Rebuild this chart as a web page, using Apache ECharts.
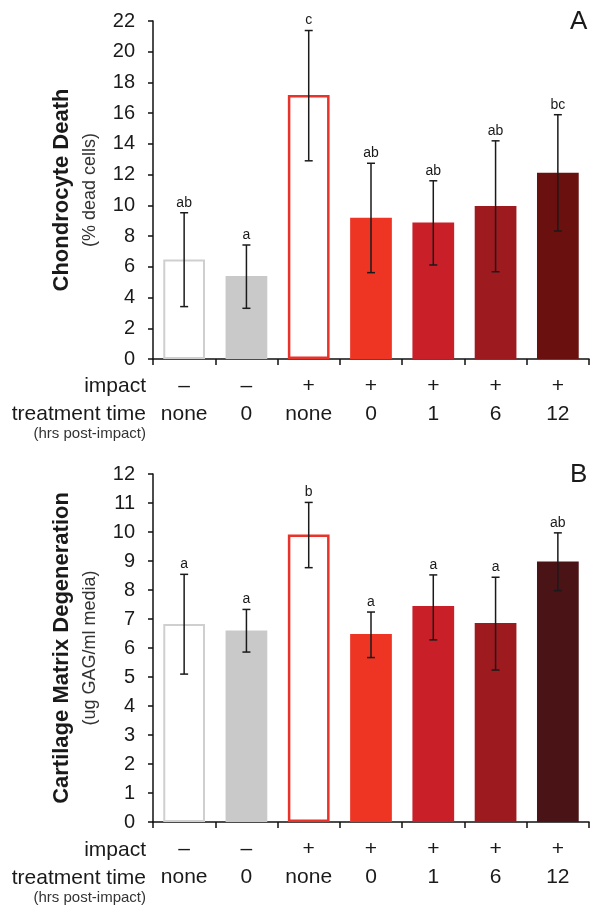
<!DOCTYPE html>
<html>
<head>
<meta charset="utf-8">
<script src="https://cdn.jsdelivr.net/npm/echarts@6/dist/echarts.min.js"></script>
<style>
html,body{margin:0;padding:0;background:#fff;}
#c{width:604px;height:918px;}
</style>
</head>
<body>
<div id="c"></div>
<script>
// ---- data ----
var impactLabels = ['–', '–', '+', '+', '+', '+', '+'];
var treatmentLabels = ['none', '0', 'none', '0', '1', '6', '12'];

var deathMean = [6.47, 5.40, 17.18, 9.20, 8.88, 9.96, 12.13];
var deathLow  = [3.41, 3.30, 12.90, 5.62, 6.12, 5.68, 8.33];
var deathHigh = [9.52, 7.42, 21.38, 12.74, 11.60, 14.20, 15.90];
var deathSig  = ['ab', 'a', 'c', 'ab', 'ab', 'ab', 'bc'];

var gagMean = [6.83, 6.60, 9.91, 6.48, 7.45, 6.86, 8.98];
var gagLow  = [5.10, 5.86, 8.77, 5.67, 6.28, 5.24, 7.98];
var gagHigh = [8.54, 7.33, 11.02, 7.24, 8.52, 8.44, 9.97];
var gagSig  = ['a', 'a', 'b', 'a', 'a', 'a', 'ab'];

var deathTicks = {min: 0, max: 22, interval: 2};
var gagTicks = {min: 0, max: 12, interval: 1};

// ---- styles ----
var FONT = '"Liberation Sans", Arial, sans-serif';
var styleA = [
  {color: '#ffffff', borderColor: '#cfcfcf', borderWidth: 2},
  {color: '#c9c9c9'},
  {color: '#ffffff', borderColor: '#e8322a', borderWidth: 2.5},
  {color: '#ee3524'},
  {color: '#c91f29'},
  {color: '#9d1a1f'},
  {color: '#6a1110'}
];
var styleB = styleA.slice(0, 6).concat([{color: '#4a1316'}]);

var categories = treatmentLabels.map(function (t, i) { return impactLabels[i] + '|' + t; });

function barData(vals, styles) {
  return vals.map(function (v, i) { return {value: v, itemStyle: styles[i]}; });
}
function errData(mean, low, high, sig) {
  return mean.map(function (m, i) { return [i, low[i], high[i], sig[i]]; });
}
function renderErr(params, api) {
  var x = api.value(0);
  var lo = api.coord([x, api.value(1)]);
  var hi = api.coord([x, api.value(2)]);
  var half = 4;
  var ls = {stroke: '#1a1a1a', lineWidth: 1.5};
  return {
    type: 'group',
    children: [
      {type: 'line', shape: {x1: lo[0], y1: lo[1], x2: hi[0], y2: hi[1]}, style: ls},
      {type: 'line', shape: {x1: lo[0] - half, y1: lo[1], x2: lo[0] + half, y2: lo[1]}, style: ls},
      {type: 'line', shape: {x1: hi[0] - half, y1: hi[1], x2: hi[0] + half, y2: hi[1]}, style: ls},
      {type: 'text', x: hi[0], y: hi[1] - 3, style: {
        text: api.value(3), fill: '#1a1a1a', font: '14px ' + FONT,
        align: 'center', verticalAlign: 'bottom'}}
    ]
  };
}

function xAxisCfg(gridIndex) {
  return {
    type: 'category', gridIndex: gridIndex, data: categories,
    axisLine: {lineStyle: {color: '#111', width: 1.5}},
    axisTick: {show: true, length: 6, alignWithLabel: false, lineStyle: {color: '#111', width: 1.5}},
    axisLabel: {
      margin: 13, interval: 0,
      formatter: function (v) { var p = v.split('|'); return '{i|' + p[0] + '}\n{t|' + p[1] + '}'; },
      rich: {
        i: {fontSize: 21, fontFamily: FONT, color: '#1a1a1a', lineHeight: 28},
        t: {fontSize: 21, fontFamily: FONT, color: '#1a1a1a', lineHeight: 28}
      }
    },
    splitLine: {show: false}
  };
}
function yAxisCfg(gridIndex, ticks, title, sub) {
  return {
    type: 'value', gridIndex: gridIndex, min: ticks.min, max: ticks.max, interval: ticks.interval,
    axisLine: {show: true, lineStyle: {color: '#111', width: 1.5}},
    axisTick: {show: true, length: 5, lineStyle: {color: '#111', width: 1.5}},
    axisLabel: {margin: 18, fontSize: 20, fontFamily: FONT, color: '#1a1a1a'},
    splitLine: {show: false},
    name: '{t|' + title + '}\n{s|' + sub + '}',
    nameLocation: 'middle', nameRotate: 90, nameGap: 52,
    nameTextStyle: {
      rich: {
        t: {fontSize: 22, fontWeight: 'bold', fontFamily: FONT, color: '#1a1a1a', lineHeight: 34},
        s: {fontSize: 18, fontFamily: FONT, color: '#333', lineHeight: 22}
      }
    }
  };
}

var chart = echarts.init(document.getElementById('c'), null, {renderer: 'canvas'});
chart.setOption({
  backgroundColor: '#ffffff',
  animation: false,
  grid: [
    {left: 153, top: 21, width: 436, height: 338},
    {left: 153, top: 474, width: 436, height: 348}
  ],
  xAxis: [xAxisCfg(0), xAxisCfg(1)],
  yAxis: [
    yAxisCfg(0, deathTicks, 'Chondrocyte Death', '(% dead cells)'),
    yAxisCfg(1, gagTicks, 'Cartilage Matrix Degeneration', '(ug GAG/ml media)')
  ],
  series: [
    {type: 'bar', xAxisIndex: 0, yAxisIndex: 0, barWidth: '67%', data: barData(deathMean, styleA)},
    {type: 'custom', xAxisIndex: 0, yAxisIndex: 0, renderItem: renderErr, data: errData(deathMean, deathLow, deathHigh, deathSig), z: 5},
    {type: 'bar', xAxisIndex: 1, yAxisIndex: 1, barWidth: '67%', data: barData(gagMean, styleB)},
    {type: 'custom', xAxisIndex: 1, yAxisIndex: 1, renderItem: renderErr, data: errData(gagMean, gagLow, gagHigh, gagSig), z: 5}
  ],
  graphic: [
    {type: 'text', left: 570, top: 9, style: {text: 'A', font: '26px ' + FONT, fill: '#1a1a1a'}},
    {type: 'text', left: 570, top: 462, style: {text: 'B', font: '26px ' + FONT, fill: '#1a1a1a'}},
    {type: 'text', x: 146, y: 386, style: {text: 'impact', font: '21px ' + FONT, fill: '#1a1a1a', align: 'right', verticalAlign: 'middle'}},
    {type: 'text', x: 146, y: 414, style: {text: 'treatment time', font: '21px ' + FONT, fill: '#1a1a1a', align: 'right', verticalAlign: 'middle'}},
    {type: 'text', x: 146, y: 434, style: {text: '(hrs post-impact)', font: '15px ' + FONT, fill: '#333', align: 'right', verticalAlign: 'middle'}},
    {type: 'text', x: 146, y: 850, style: {text: 'impact', font: '21px ' + FONT, fill: '#1a1a1a', align: 'right', verticalAlign: 'middle'}},
    {type: 'text', x: 146, y: 878, style: {text: 'treatment time', font: '21px ' + FONT, fill: '#1a1a1a', align: 'right', verticalAlign: 'middle'}},
    {type: 'text', x: 146, y: 898, style: {text: '(hrs post-impact)', font: '15px ' + FONT, fill: '#333', align: 'right', verticalAlign: 'middle'}}
  ]
});
</script>
</body>
</html>
